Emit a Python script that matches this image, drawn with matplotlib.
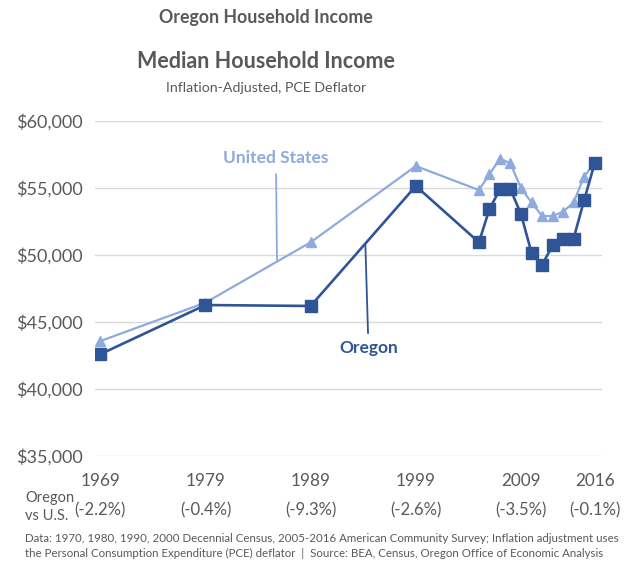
import numpy as np
import matplotlib.pyplot as plt
from matplotlib.ticker import FuncFormatter

plt.rcParams['font.family'] = ['Lato', 'DejaVu Sans']

# Median household income, inflation adjusted (PCE deflator)
years = [1969, 1979, 1989, 1999, 2005, 2006, 2007, 2008, 2009, 2010,
         2011, 2012, 2013, 2014, 2015, 2016]
oregon = [42600, 46270, 46200, 55150, 50950, 53430, 54900, 54900, 53060,
          50170, 49250, 50720, 51190, 51230, 54080, 56840]
united_states = [43580, 46450, 50950, 56640, 54850, 56020, 57200, 56840,
                 54980, 53930, 52910, 52910, 53230, 53930, 55840, 56900]

tick_years = [1969, 1979, 1989, 1999, 2009, 2016]
gap_labels = ["(-2.2%)", "(-0.4%)", "(-9.3%)", "(-2.6%)", "(-3.5%)", "(-0.1%)"]

c_or = '#2f5597'
c_us = '#8faadc'
c_txt = '#595959'

fig = plt.figure(figsize=(6.31, 5.61), dpi=100)
ax = fig.add_axes([0.1506, 0.187, 0.8034, 0.5973])

ax.plot(years, united_states, color=c_us, lw=1.6, marker='^', ms=7.5,
        zorder=3)
ax.plot(years, oregon, color=c_or, lw=1.9, marker='s', ms=8.5, zorder=4)

ax.set_xlim(1968.5, 2016.7)
ax.set_ylim(35000, 60000)
ax.set_yticks(np.arange(35000, 60001, 5000))
ax.yaxis.set_major_formatter(FuncFormatter(lambda v, p: "${:,.0f}".format(v)))
ax.set_xticks(tick_years)
ax.grid(axis='y', color='#d9d9d9', lw=1)
ax.set_axisbelow(True)
for s in ax.spines.values():
    s.set_visible(False)
ax.tick_params(axis='y', length=0, pad=9, labelsize=13, labelcolor=c_txt)
ax.tick_params(axis='x', length=0, pad=12, labelsize=12.3, labelcolor=c_txt)

# series labels with leader lines down to the curves
x_us = 1985.8
ax.annotate("United States", xy=(x_us, np.interp(x_us, years, united_states)),
            xytext=(1985.7, 57250), ha='center', va='center', fontsize=12.5,
            fontweight='bold', color=c_us,
            arrowprops=dict(arrowstyle='-', color=c_us, lw=1.3,
                            shrinkA=4, shrinkB=0))
x_or = 1994.2
ax.annotate("Oregon", xy=(x_or, np.interp(x_or, years, oregon)),
            xytext=(1994.5, 43050), ha='center', va='center', fontsize=12.5,
            fontweight='bold', color=c_or,
            arrowprops=dict(arrowstyle='-', color=c_or, lw=1.3,
                            shrinkA=3, shrinkB=0))

# Oregon vs U.S. gap under each year
for yr, lab in zip(tick_years, gap_labels):
    ax.text(yr, -0.161, lab, transform=ax.get_xaxis_transform(),
            ha='center', va='center', fontsize=12, color=c_txt)
fig.text(25 / 631, 1 - 507 / 561, "Oregon\nvs U.S.", ha='left', va='center',
         fontsize=10.5, color=c_txt, linespacing=1.45)

fig.text(0.4216, 1 - 17 / 561, "Oregon Household Income", ha='center',
         va='center', fontsize=12.8, fontweight='bold', color=c_txt)
fig.text(0.4216, 1 - 62 / 561, "Median Household Income", ha='center',
         va='center', fontsize=15.5, fontweight='bold', color=c_txt)
fig.text(0.4216, 1 - 88 / 561, "Inflation-Adjusted, PCE Deflator",
         ha='center', va='center', fontsize=10.2, color=c_txt)

fig.text(25 / 631, 1 - 538 / 561,
         "Data: 1970, 1980, 1990, 2000 Decennial Census, 2005-2016 American "
         "Community Survey; Inflation adjustment uses", ha='left', va='center',
         fontsize=8.25, color=c_txt)
fig.text(25 / 631, 1 - 553 / 561,
         "the Personal Consumption Expenditure (PCE) deflator  |  Source: BEA, "
         "Census, Oregon Office of Economic Analysis", ha='left', va='center',
         fontsize=8.25, color=c_txt)

fig.savefig('out.png', dpi=100, facecolor='white')
